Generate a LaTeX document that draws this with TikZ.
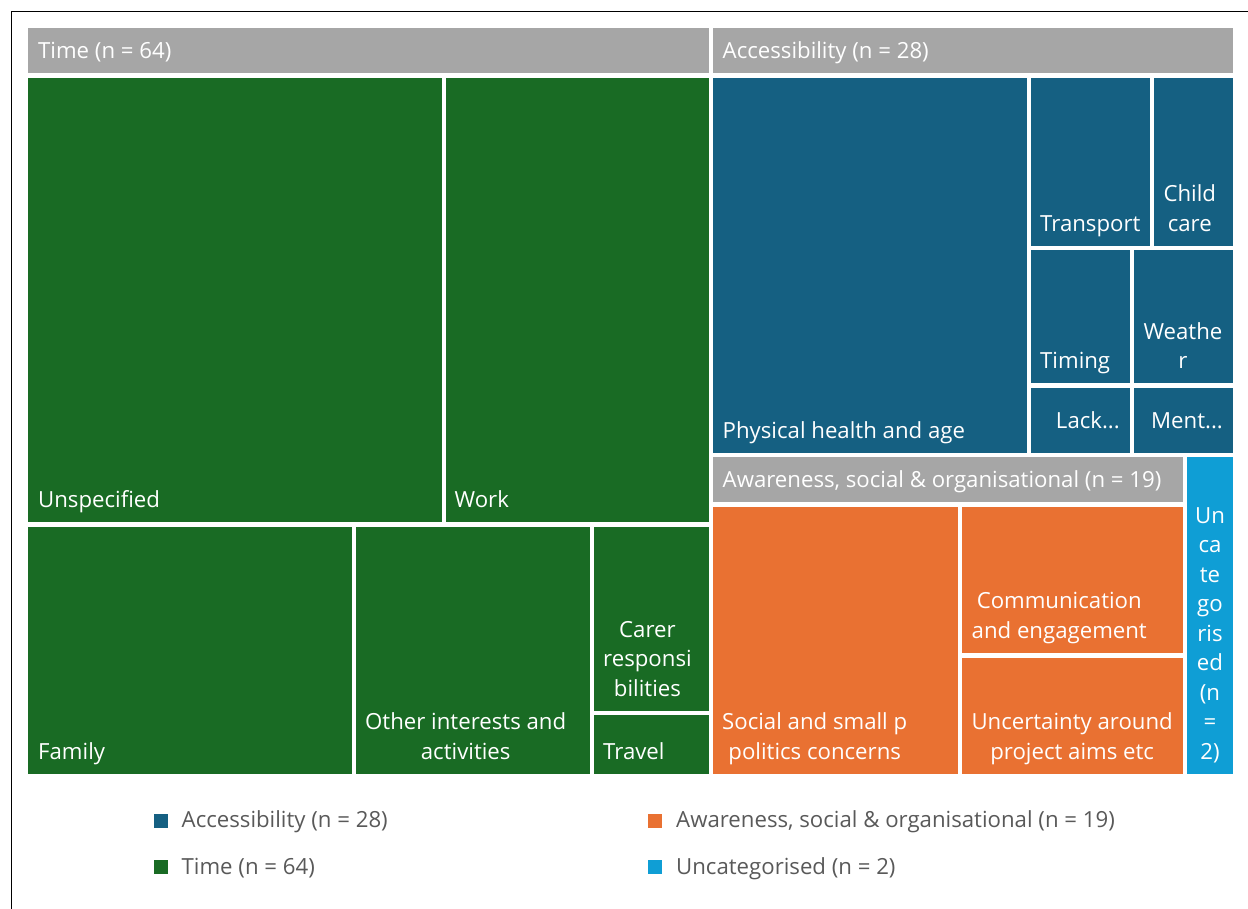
\documentclass[tikz,border=0pt]{standalone}
\usepackage{fontspec}
\setmainfont{Open Sans}
\usetikzlibrary{positioning}
\definecolor{acc}{HTML}{156082}
\definecolor{tim}{HTML}{196B24}
\definecolor{awa}{HTML}{E97132}
\definecolor{unc}{HTML}{0F9ED5}
\definecolor{hdr}{HTML}{A6A6A6}
\definecolor{legtxt}{HTML}{595959}
\tikzset{
  lbl/.style={text=white, inner sep=0pt, align=center, anchor=base west},
  legbox/.style={minimum size=14pt, inner sep=0pt, anchor=north west},
  legtext/.style={text=legtxt, inner sep=0pt, anchor=base west}
}
\begin{document}
\begin{tikzpicture}[x=1pt, y=-1pt, font=\fontsize{22.2}{29.5}\selectfont]
		\useasboundingbox (0,0) rectangle (1248,909);
		\draw[line width=1.7pt] (11.5,909) -- (11.5,11.5) -- (1248,11.5);
		% headers
		\fill[hdr] (28.3,28.3) rectangle (709,73.3);
		\fill[hdr] (713,28.3) rectangle (1233,73.3);
		\fill[hdr] (713,457.3) rectangle (1182.7,502.3);
		% time
		\fill[tim] (28.3,77.7) rectangle (441.7,522.3);
		\fill[tim] (445.8,77.7) rectangle (709,522.3);
		\fill[tim] (28.3,526.7) rectangle (351.7,773.7);
		\fill[tim] (355.8,526.7) rectangle (590.3,773.7);
		\fill[tim] (594.3,526.7) rectangle (709,710.7);
		\fill[tim] (594.3,715.2) rectangle (709,773.7);
		% accessibility
		\fill[acc] (713,77.7) rectangle (1026.7,452.7);
		\fill[acc] (1031,77.7) rectangle (1150,245.7);
		\fill[acc] (1154.3,77.7) rectangle (1233,245.7);
		\fill[acc] (1031,250) rectangle (1130,383.3);
		\fill[acc] (1134.3,250) rectangle (1233,383.3);
		\fill[acc] (1031,387.7) rectangle (1130,452.7);
		\fill[acc] (1134.3,387.7) rectangle (1233,452.7);
		% awareness
		\fill[awa] (713,506.7) rectangle (957.7,773.7);
		\fill[awa] (962.3,506.7) rectangle (1182.7,652.7);
		\fill[awa] (962.3,657.7) rectangle (1182.7,773.7);
		% uncategorised
		\fill[unc] (1187,457.3) rectangle (1233,773.7);
		% labels (base = last line)
		\node[lbl] (timehdr) at (38,58.3) {Time (n = 64)};
		\node[lbl] (acchdr) at (722.5,58.3) {Accessibility (n = 28)};
		\node[lbl] (awahdr) at (722.5,487.5) {Awareness, social \& organisational (n = 19)};
		\node[lbl] (unspec) at (38,507.7) {Unspecified};
		\node[lbl] (work) at (454.5,507.7) {Work};
		\node[lbl] (family) at (38,759.2) {Family};
		\node[lbl] (other) at (365,759.2) {Other interests and\\activities};
		\node[lbl] (carer) at (603,696.2) {Carer\\responsi\\bilities};
		\node[lbl] (travel) at (603,759.2) {Travel};
		\node[lbl] (phys) at (722.5,438.2) {Physical health and age};
		\node[lbl] (transport) at (1040,231.2) {Transport};
		\node[lbl] (child) at (1163.3,231.2) {Child\\care};
		\node[lbl] (timing) at (1040,368.8) {Timing};
		\node[lbl] (weather) at (1143.3,368.8) {Weathe\\r};
		\node[lbl, anchor=base east] (lack) at (1120,428.5) {Lack...};
		\node[lbl, anchor=base east] (ment) at (1223,428.5) {Ment...};
		\node[lbl] (social) at (722,759.2) {Social and small p\\politics concerns};
		\node[lbl] (comm) at (971.5,638.2) {Communication\\and engagement};
		\node[lbl] (uncert) at (971.3,759.2) {Uncertainty around\\project aims etc};
		\node[lbl, anchor=base] (uncat) at (1210,759.2) {Un\\ca\\te\\go\\ris\\ed\\(n\\=\\2)};
		% legend
		\node[legbox, fill=acc] (legacc) at (153.3,813.3) {};
		\node[legtext] (legacctxt) at (181.5,827.3) {Accessibility (n = 28)};
		\node[legbox, fill=tim] (legtim) at (153.3,860) {};
		\node[legtext] (legtimtxt) at (181.5,874) {Time (n = 64)};
		\node[legbox, fill=awa] (legawa) at (648,813.3) {};
		\node[legtext] (legawatxt) at (676,827.3) {Awareness, social \& organisational (n = 19)};
		\node[legbox, fill=unc] (legunc) at (648,860) {};
		\node[legtext] (leguntxt) at (676,874) {Uncategorised (n = 2)};
		\end{tikzpicture}
\end{document}
